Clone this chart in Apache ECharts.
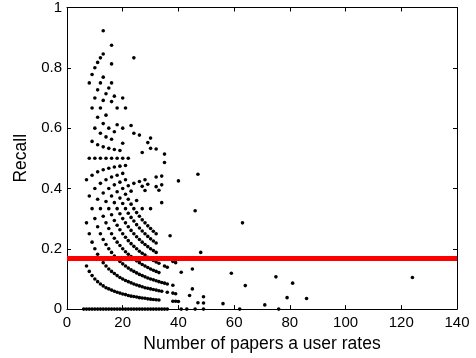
<!DOCTYPE html>
<html><head><meta charset="utf-8">
<script src="https://cdn.jsdelivr.net/npm/echarts@6/dist/echarts.min.js"></script>
<style>html,body{margin:0;padding:0;background:#fff}#c{width:476px;height:358px}</style>
</head><body><div id="c"></div>
<script>
// Number of papers a user rates (one entry per column of points)
const paperCounts = [6,7,8,9,10,11,12,13,14,15,16,17,18,19,20,21,22,23,24,25,26,27,28,29,30,31,32,33,34,35,36,37,38,39,40,41,43,44,45,46,47,48,49,56,59,62,63,64,71,75,76,79,81,86,124];
// Recall values of the users found at each paper count above
const recallByCount = [
  [0],
  [0,.143,.286,.429],
  [0,.125,.25,.375,.5,.75],
  [0,.111,.222,.333,.444,.556,.667,.778],
  [0,.1,.2,.3,.4,.5,.6,.7,.8],
  [0,.091,.182,.273,.364,.455,.545,.636,.727,.818],
  [0,.083,.167,.25,.333,.417,.5,.583,.667,.75,.833],
  [0,.077,.154,.231,.308,.385,.462,.538,.615,.692,.769,.846,.923],
  [0,.071,.143,.214,.286,.357,.429,.5,.571,.643,.714],
  [0,.067,.133,.2,.267,.333,.4,.467,.533,.6,.733],
  [0,.063,.125,.188,.25,.313,.375,.438,.5,.563,.688,.75,.813,.875],
  [0,.059,.118,.176,.235,.294,.353,.412,.471,.529,.588,.706],
  [0,.056,.111,.167,.222,.278,.333,.389,.444,.5,.611,.667],
  [0,.053,.105,.158,.211,.263,.316,.368,.421,.474,.526],
  [0,.05,.1,.15,.2,.25,.3,.35,.4,.45,.5,.55,.6,.7],
  [0,.048,.095,.143,.19,.238,.286,.333,.381,.429,.476,.667],
  [0,.045,.091,.136,.182,.227,.273,.318,.364,.409,.5],
  [0,.043,.087,.13,.174,.217,.261,.304,.348,.391,.609],
  [0,.042,.083,.125,.167,.208,.25,.292,.333,.417,.583,.833],
  [0,.04,.08,.12,.16,.2,.24,.28,.32,.36],
  [0,.038,.077,.115,.154,.192,.231,.269,.308,.423,.577],
  [0,.037,.074,.111,.148,.185,.222,.259,.296,.333,.407,.519],
  [0,.036,.071,.107,.143,.179,.214,.25,.286,.393,.429],
  [0,.034,.069,.103,.138,.172,.207,.241,.276,.414,.552],
  [0,.033,.067,.1,.133,.167,.2,.233,.267,.333,.533,.567],
  [0,.032,.065,.097,.129,.161,.194,.226,.258],
  [0,.031,.063,.094,.125,.156,.188,.219,.25,.406,.438,.531],
  [0,.03,.061,.091,.121,.152,.394],
  [0,.059,.088,.353,.412,.441],
  [0,.086,.143,.486,.514],
  [0,.056,.083,.139],
  [.243],
  [.026,.053,.079,.158],
  [.026,.051,.154],
  [.025,.425],
  [0,.122],
  [0],
  [.045],
  [.067,.133],
  [0,.326],
  [.021,.447],
  [.188],
  [0,.02,.041],
  [.018],
  [.119],
  [0],
  [.286],
  [.078],
  [.014],
  [.107],
  [0],
  [.038],
  [.086],
  [.035],
  [.105]
];
const thresholdRecall = 0.168;
const xTickStep = 20, xMax = 140;
const yTickStep = 0.2, yMax = 1;

const points = [];
paperCounts.forEach((n, i) => recallByCount[i].forEach(r => points.push([n, r])));

const chart = echarts.init(document.getElementById('c'));
const axisCommon = {
  axisLine: {show: true, onZero: false, lineStyle: {color: '#000', width: 1}},
  axisTick: {show: true, inside: true, length: 4, lineStyle: {color: '#000', width: 1}},
  splitLine: {show: false}
};
chart.setOption({
  animation: false,
  backgroundColor: '#fff',
  textStyle: {fontFamily: 'Liberation Sans'},
  grid: {left: 67, right: 19, top: 7, bottom: 47},
  xAxis: [
    Object.assign({type: 'value', min: 0, max: xMax, interval: xTickStep,
      name: 'Number of papers a user rates', nameLocation: 'middle', nameGap: 22,
      nameTextStyle: {fontSize: 17.5, color: '#000', fontFamily: 'Liberation Sans'},
      axisLabel: {fontSize: 15, color: '#000', margin: 6, fontFamily: 'Liberation Sans'}}, axisCommon),
    Object.assign({type: 'value', position: 'top', min: 0, max: xMax, interval: xTickStep,
      axisLabel: {show: false}}, axisCommon)
  ],
  yAxis: [
    Object.assign({type: 'value', min: 0, max: yMax, interval: yTickStep,
      name: 'Recall', nameLocation: 'middle', nameGap: 37, nameRotate: 90,
      nameTextStyle: {fontSize: 17.5, color: '#000', fontFamily: 'Liberation Sans'},
      axisLabel: {fontSize: 15, color: '#000', margin: 5, fontFamily: 'Liberation Sans'}}, axisCommon),
    Object.assign({type: 'value', position: 'right', min: 0, max: yMax, interval: yTickStep,
      axisLabel: {show: false}}, axisCommon)
  ],
  series: [
    {type: 'scatter', data: points, symbolSize: 3.6, itemStyle: {color: '#000', opacity: 1}, z: 2},
    {type: 'line', data: [[0, thresholdRecall], [xMax, thresholdRecall]], symbol: 'none',
      lineStyle: {color: '#ff0000', width: 5}, z: 3}
  ]
});
</script></body></html>
